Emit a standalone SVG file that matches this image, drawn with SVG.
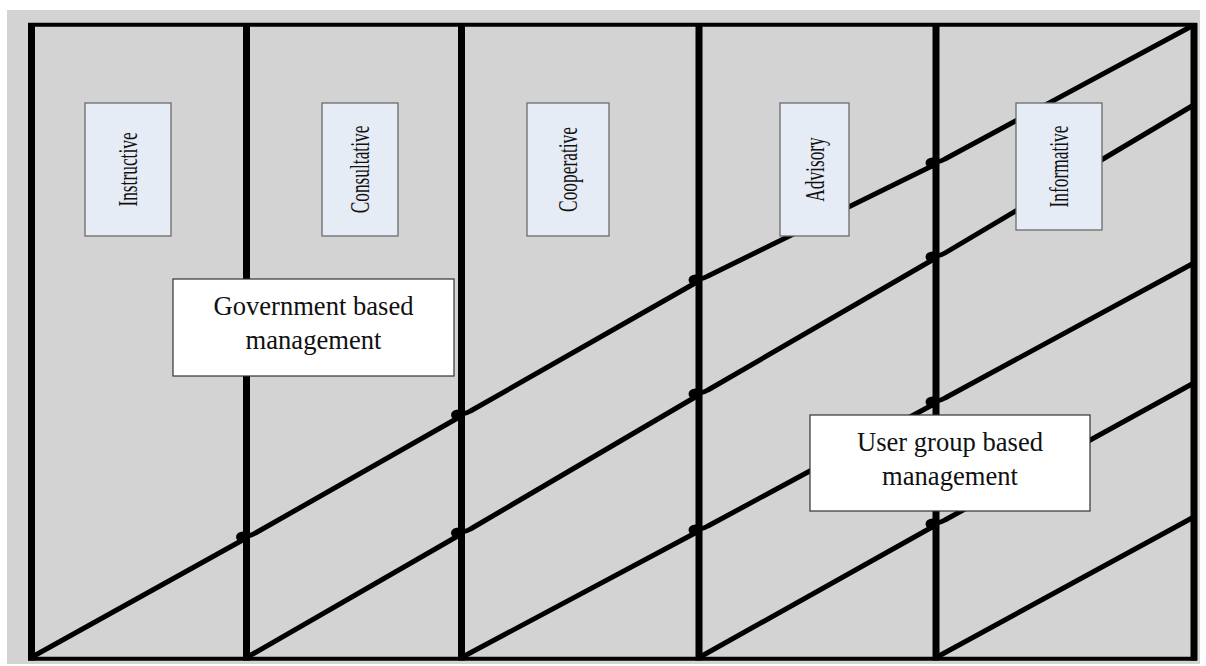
<svg xmlns="http://www.w3.org/2000/svg" width="1206" height="666" viewBox="0 0 1206 666">
  <style>
    .frame { stroke: #000; fill: none; }
    .col { stroke-width: 7; }
    .edge { stroke-width: 4; }
    .diag { stroke: #000; stroke-width: 5; fill: none; stroke-linecap: round; stroke-linejoin: round; }
    .dot { fill: #000; }
    .tag { fill: #e6ecf6; stroke: #6b6b6b; stroke-width: 1.3; }
    .tag-text { font-family: "Liberation Serif", "Times New Roman", serif; font-size: 28px; fill: #111; text-anchor: middle; }
    .mgmt { fill: #fff; stroke: #333; stroke-width: 1.2; }
    .mgmt-text { font-family: "Liberation Serif", "Times New Roman", serif; font-size: 26.6px; fill: #111; text-anchor: middle; }
  </style>

  <!-- backdrop -->
  <rect x="7" y="10" width="1193" height="654" fill="#d3d3d3"/>

  <!-- frame and column dividers -->
  <g id="frame" class="frame">
    <line class="edge" x1="28" y1="24.7" x2="1197" y2="24.7"/>
    <line class="edge" x1="28" y1="658.7" x2="1197" y2="658.7"/>
    <line class="col" x1="31.5" y1="23" x2="31.5" y2="660.5"/>
    <line class="col" x1="246.5" y1="23" x2="246.5" y2="660.5"/>
    <line class="col" x1="461.5" y1="23" x2="461.5" y2="660.5"/>
    <line class="col" x1="699" y1="23" x2="699" y2="660.5"/>
    <line class="col" x1="936" y1="23" x2="936" y2="660.5"/>
    <line class="col" x1="1194" y1="23" x2="1194" y2="660.5"/>
  </g>

  <!-- stepped diagonal connectors -->
  <g id="connectors">
    <path class="diag" d="M32,657 L244.5,539 M246.5,536 Q251.5,535.5 255.5,533 L459.5,417 M461.5,414 Q466.5,413.5 470.5,411 L697,282 M699,279 Q704,278.5 708,276 L934,165 M936,162 Q941,161.5 945,159 L1192,26"/>
    <path class="diag" d="M247.5,657 L459.5,535 M461.5,532 Q466.5,531.5 470.5,529 L697,396 M699,393 Q704,392.5 708,390 L934,259 M936,256 Q941,255.5 945,253 L1192,106"/>
    <path class="diag" d="M462.5,657 L697,532 M699,529 Q704,528.5 708,526 L934,404 M936,401 Q941,400.5 945,398 L1192,264"/>
    <path class="diag" d="M700,657 L934,526 M936,523 Q941,522.5 945,520 L1192,384"/>
    <path class="diag" d="M937,657 L1192,518"/>
    <g class="dot">
      <ellipse cx="243" cy="537" rx="7" ry="5.5"/>
      <ellipse cx="458" cy="415" rx="7" ry="5.5"/>
      <ellipse cx="695.5" cy="280" rx="7" ry="5.5"/>
      <ellipse cx="932.5" cy="163" rx="7" ry="5.5"/>
      <ellipse cx="458" cy="533" rx="7" ry="5.5"/>
      <ellipse cx="695.5" cy="394" rx="7" ry="5.5"/>
      <ellipse cx="932.5" cy="257" rx="7" ry="5.5"/>
      <ellipse cx="695.5" cy="530" rx="7" ry="5.5"/>
      <ellipse cx="932.5" cy="402" rx="7" ry="5.5"/>
      <ellipse cx="932.5" cy="524" rx="7" ry="5.5"/>
    </g>
  </g>

  <!-- column headings -->
  <g id="instructive">
    <rect class="tag" x="85" y="103" width="86" height="133"/>
    <text class="tag-text" transform="translate(137,169.5) rotate(-90) scale(0.62,1)">Instructive</text>
  </g>
  <g id="consultative">
    <rect class="tag" x="322" y="103" width="76" height="133"/>
    <text class="tag-text" transform="translate(369,169.5) rotate(-90) scale(0.62,1)">Consultative</text>
  </g>
  <g id="cooperative">
    <rect class="tag" x="527" y="103" width="82" height="133"/>
    <text class="tag-text" transform="translate(577,169.5) rotate(-90) scale(0.62,1)">Cooperative</text>
  </g>
  <g id="advisory">
    <rect class="tag" x="780" y="103" width="69" height="133"/>
    <text class="tag-text" transform="translate(823.5,169.5) rotate(-90) scale(0.62,1)">Advisory</text>
  </g>
  <g id="informative">
    <rect class="tag" x="1016" y="103" width="86" height="127"/>
    <text class="tag-text" transform="translate(1068,166.5) rotate(-90) scale(0.62,1)">Informative</text>
  </g>

  <!-- management labels -->
  <g id="government">
    <rect class="mgmt" x="173" y="279" width="281" height="97"/>
    <text class="mgmt-text" x="313.5" y="315">Government based</text>
    <text class="mgmt-text" x="313.5" y="349">management</text>
  </g>
  <g id="user-group">
    <rect class="mgmt" x="810" y="415" width="280" height="96"/>
    <text class="mgmt-text" x="950" y="451">User group based</text>
    <text class="mgmt-text" x="950" y="485">management</text>
  </g>
</svg>
